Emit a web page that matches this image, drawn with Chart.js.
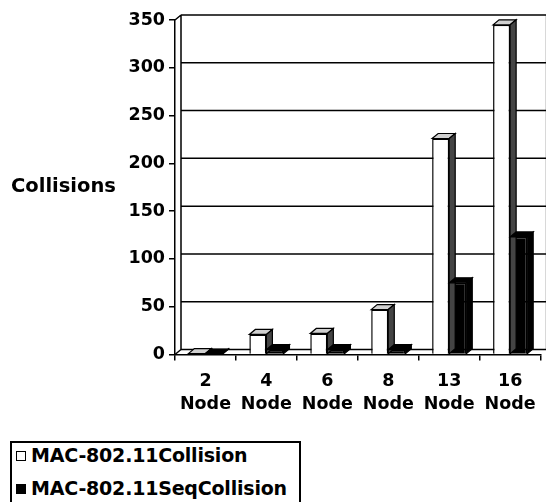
<!DOCTYPE html>
<html>
<head>
<meta charset="utf-8">
<script src="https://cdn.jsdelivr.net/npm/chart.js@4"></script>
<style>
    body { margin: 0; background: #fff; }
    #wrap { position: relative; width: 546px; height: 502px; overflow: hidden; }
    #box { position: absolute; left: 0; top: 0; width: 546px; height: 430px; }
    #legend {
        position: absolute; left: 10px; top: 441px; width: 291px; height: 80px;
        border: 2px solid #000; font: bold 19px "DejaVu Sans", sans-serif;
        padding: 0 0 0 4px; box-sizing: border-box;
    }
    #legend div { height: 33px; line-height: 24px; white-space: nowrap; letter-spacing: -0.2px; }
    #legend span {
        display: inline-block; width: 8px; height: 8px; border: 1.5px solid #000;
        margin-right: 5px; vertical-align: 1px;
    }
</style>
</head>
<body>
<div id="wrap">
    <div id="box"><canvas id="grafico"></canvas></div>
    <div id="legend"></div>
</div>
<script>
const categorias = [["2", "Node"], ["4", "Node"], ["6", "Node"], ["8", "Node"], ["13", "Node"], ["16", "Node"]];
const collision = [1, 21, 22, 47, 226, 345];
const seqCollision = [0.5, 5, 5, 5, 75, 123];
const nombres = ["MAC-802.11Collision", "MAC-802.11SeqCollision"];
const colores = ["#ffffff", "#000000"];

const DX = 6;
const DY = 5;
const fuente = "'DejaVu Sans', sans-serif";

// paredes y lineas de fondo del grafico 3D
const fondo3d = {
    id: "fondo3d",
    beforeDatasetsDraw(chart) {
        const { ctx, chartArea: a, scales } = chart;
        const y = scales.y;
        ctx.save();
        ctx.strokeStyle = "#000";
        ctx.lineWidth = 1.5;
        y.ticks.forEach((t) => {
            const py = y.getPixelForValue(t.value) - DY;
            ctx.beginPath();
            ctx.moveTo(a.left + DX, py);
            ctx.lineTo(a.right + DX, py);
            ctx.stroke();
        });
        ctx.beginPath();
        ctx.moveTo(a.left + DX, a.top - DY);
        ctx.lineTo(a.left + DX, a.bottom - DY);
        ctx.moveTo(a.left, a.bottom);
        ctx.lineTo(a.left + DX, a.bottom - DY);
        ctx.moveTo(a.left, a.top);
        ctx.lineTo(a.left + DX, a.top - DY);
        ctx.moveTo(a.right + DX, a.top - DY);
        ctx.lineTo(a.right + DX, a.bottom - DY);
        ctx.stroke();
        ctx.restore();
    },
    afterDatasetsDraw(chart) {
        const { ctx } = chart;
        ctx.save();
        ctx.strokeStyle = "#000";
        ctx.lineWidth = 1.2;
        chart.data.datasets.forEach((ds, i) => {
            const meta = chart.getDatasetMeta(i);
            meta.data.forEach((bar) => {
                const p = bar.getProps(["x", "y", "base", "width"], true);
                const l = p.x - p.width / 2;
                const r = p.x + p.width / 2;
                // cara superior
                ctx.beginPath();
                ctx.moveTo(l, p.y);
                ctx.lineTo(r, p.y);
                ctx.lineTo(r + DX, p.y - DY);
                ctx.lineTo(l + DX, p.y - DY);
                ctx.closePath();
                ctx.fillStyle = i === 0 ? "#d0d0d0" : "#000";
                ctx.fill();
                ctx.stroke();
                // cara lateral
                ctx.beginPath();
                ctx.moveTo(r, p.y);
                ctx.lineTo(r + DX, p.y - DY);
                ctx.lineTo(r + DX, p.base - DY);
                ctx.lineTo(r, p.base);
                ctx.closePath();
                ctx.fillStyle = i === 0 ? "#444" : "#000";
                ctx.fill();
                ctx.stroke();
            });
        });
        ctx.restore();
    },
};

const tituloY = {
    id: "tituloY",
    afterDraw(chart) {
        const { ctx, chartArea: a } = chart;
        ctx.save();
        ctx.font = "bold 19.5px " + fuente;
        ctx.fillStyle = "#000";
        ctx.textBaseline = "middle";
        ctx.fillText("Collisions", 11, (a.top + a.bottom) / 2);
        ctx.restore();
    },
};

new Chart(document.getElementById("grafico"), {
    type: "bar",
    data: {
        labels: categorias,
        datasets: [
            {
                label: nombres[0],
                data: collision,
                backgroundColor: colores[0],
                borderColor: "#000",
                borderWidth: 1.5,
                categoryPercentage: 0.56,
                barPercentage: 1,
            },
            {
                label: nombres[1],
                data: seqCollision,
                backgroundColor: colores[1],
                borderColor: "#000",
                borderWidth: 1.5,
                categoryPercentage: 0.56,
                barPercentage: 1,
            },
        ],
    },
    options: {
        responsive: true,
        maintainAspectRatio: false,
        animation: false,
        layout: { padding: { top: 20, right: 4, left: 0, bottom: 4 } },
        plugins: {
            legend: { display: false },
            tooltip: { enabled: false },
        },
        scales: {
            x: {
                grid: { drawOnChartArea: false, tickLength: 6, color: "#000", lineWidth: 1.5 },
                border: { color: "#000", width: 1.5 },
                ticks: {
                    color: "#000",
                    padding: 10,
                    maxRotation: 0,
                    font: { family: fuente, weight: "bold", size: 17.5, lineHeight: 1.3 },
                },
            },
            y: {
                min: 0,
                max: 350,
                afterFit: (scale) => { scale.width = 175; },
                grid: { drawOnChartArea: false, tickLength: 6, color: "#000", lineWidth: 1.5 },
                border: { color: "#000", width: 1.5 },
                ticks: {
                    stepSize: 50,
                    color: "#000",
                    padding: 4,
                    font: { family: fuente, weight: "bold", size: 17.5 },
                },
            },
        },
    },
    plugins: [fondo3d, tituloY],
});

const legend = document.getElementById("legend");
nombres.forEach((n, i) => {
    legend.innerHTML += `<div><span style="background:${colores[i]}"></span>${n}</div>`;
});
</script>
</body>
</html>
